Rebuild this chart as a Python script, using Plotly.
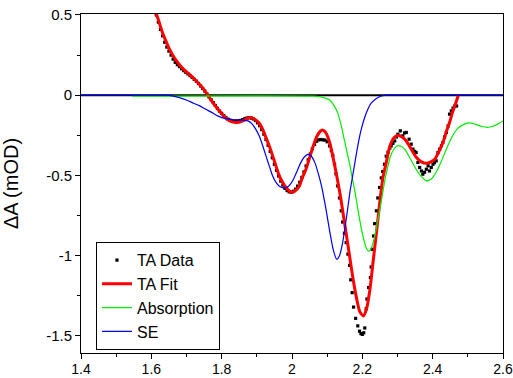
import plotly.graph_objects as go

# ---- TA data (black dots) ----
data_x = [1.614, 1.620, 1.626, 1.632, 1.638, 1.644, 1.650, 1.656, 1.662, 1.668,
          1.674, 1.680, 1.686, 1.692, 1.698, 1.704, 1.710, 1.716, 1.722, 1.728,
          1.734, 1.740, 1.746, 1.752, 1.758, 1.764, 1.770, 1.776, 1.782, 1.788,
          1.794, 1.800, 1.806, 1.812, 1.818, 1.824, 1.830, 1.836, 1.842, 1.848,
          1.854, 1.860, 1.866, 1.872, 1.878, 1.884, 1.890, 1.896, 1.902, 1.908,
          1.914, 1.920, 1.926, 1.932, 1.938, 1.944, 1.950, 1.956, 1.962, 1.968,
          1.974, 1.980, 1.986, 1.992, 1.998, 2.004, 2.010, 2.016, 2.022, 2.028,
          2.034, 2.040, 2.046, 2.052, 2.058, 2.064, 2.070, 2.076, 2.082, 2.088,
          2.094, 2.100, 2.107, 2.112, 2.116, 2.121, 2.125, 2.130, 2.135, 2.140,
          2.144, 2.149, 2.154, 2.159, 2.164, 2.167, 2.171, 2.175, 2.181, 2.187,
          2.192, 2.196, 2.200, 2.204, 2.207, 2.211, 2.213, 2.218, 2.223, 2.225,
          2.228, 2.232, 2.235, 2.240, 2.244, 2.249, 2.254, 2.258, 2.263, 2.268,
          2.273, 2.278, 2.282, 2.287, 2.292, 2.297, 2.301, 2.308, 2.315, 2.320,
          2.325, 2.333, 2.339, 2.344, 2.349, 2.353, 2.358, 2.363, 2.368, 2.372,
          2.377, 2.382, 2.387, 2.391, 2.396, 2.401, 2.405, 2.410, 2.415, 2.420,
          2.425, 2.429, 2.434, 2.439, 2.444, 2.448, 2.453, 2.458, 2.463, 2.468]
data_y = [0.500, 0.455, 0.410, 0.370, 0.330, 0.300, 0.275, 0.250, 0.225, 0.205,
          0.190, 0.178, 0.165, 0.153, 0.143, 0.133, 0.122, 0.111, 0.099, 0.087,
          0.073, 0.058, 0.042, 0.026, 0.008, -0.010, -0.028, -0.046, -0.064, -0.082,
          -0.099, -0.113, -0.127, -0.139, -0.149, -0.156, -0.160, -0.162, -0.162, -0.160,
          -0.157, -0.152, -0.146, -0.142, -0.140, -0.142, -0.148, -0.158, -0.172, -0.190,
          -0.214, -0.243, -0.276, -0.312, -0.350, -0.390, -0.430, -0.468, -0.503, -0.535,
          -0.560, -0.580, -0.594, -0.602, -0.604, -0.598, -0.585, -0.566, -0.542, -0.512,
          -0.478, -0.441, -0.403, -0.366, -0.333, -0.306, -0.287, -0.278, -0.276, -0.278,
          -0.280, -0.290, -0.316, -0.345, -0.375, -0.430, -0.490, -0.565, -0.640, -0.720,
          -0.790, -0.860, -0.918, -0.990, -1.060, -1.150, -1.230, -1.320, -1.390, -1.437,
          -1.470, -1.485, -1.490, -1.480, -1.450, -1.330, -1.270, -1.198, -1.136, -1.070,
          -0.960, -0.877, -0.800, -0.720, -0.640, -0.575, -0.515, -0.475, -0.430, -0.380,
          -0.355, -0.330, -0.316, -0.300, -0.285, -0.260, -0.243, -0.222, -0.253, -0.235,
          -0.232, -0.274, -0.305, -0.336, -0.350, -0.357, -0.419, -0.450, -0.472, -0.492,
          -0.480, -0.461, -0.440, -0.472, -0.450, -0.430, -0.420, -0.409, -0.357, -0.336,
          -0.315, -0.295, -0.260, -0.232, -0.191, -0.118, -0.098, -0.080, -0.067, -0.067]

# ---- TA fit (red) ----
fit_x = [1.612, 1.620, 1.630, 1.640, 1.652, 1.665, 1.680, 1.695, 1.710, 1.725,
         1.740, 1.755, 1.770, 1.785, 1.800, 1.815, 1.830, 1.845, 1.860, 1.872,
         1.882, 1.893, 1.907, 1.917, 1.926, 1.936, 1.945, 1.955, 1.964, 1.974,
         1.983, 1.993, 2.002, 2.012, 2.021, 2.030, 2.040, 2.050, 2.060, 2.070,
         2.080, 2.087, 2.095, 2.102, 2.109, 2.117, 2.127, 2.137, 2.147, 2.156,
         2.165, 2.174, 2.184, 2.193, 2.203, 2.212, 2.221, 2.230, 2.239, 2.249,
         2.258, 2.268, 2.278, 2.290, 2.301, 2.313, 2.325, 2.340, 2.354, 2.368,
         2.382, 2.395, 2.406, 2.418, 2.429, 2.440, 2.448, 2.456, 2.463, 2.473]
fit_y = [0.520, 0.470, 0.400, 0.345, 0.285, 0.235, 0.190, 0.155, 0.127, 0.095,
         0.060, 0.018, -0.030, -0.075, -0.115, -0.148, -0.166, -0.170, -0.160, -0.145,
         -0.139, -0.148, -0.175, -0.215, -0.264, -0.320, -0.378, -0.445, -0.503, -0.545,
         -0.575, -0.598, -0.606, -0.590, -0.565, -0.510, -0.460, -0.390, -0.320, -0.260,
         -0.225, -0.216, -0.230, -0.260, -0.310, -0.390, -0.500, -0.620, -0.760, -0.890,
         -1.020, -1.150, -1.270, -1.350, -1.375, -1.330, -1.220, -1.050, -0.877, -0.680,
         -0.520, -0.420, -0.320, -0.265, -0.249, -0.260, -0.285, -0.340, -0.388, -0.415,
         -0.424, -0.415, -0.399, -0.350, -0.295, -0.220, -0.170, -0.110, -0.067, 0.000]

# ---- Absorption (green) ----
abs_x = [1.545, 2.060, 2.080, 2.095, 2.107, 2.118, 2.130, 2.140, 2.149, 2.157,
         2.164, 2.171, 2.178, 2.185, 2.192, 2.199, 2.206, 2.212, 2.218, 2.224,
         2.230, 2.236, 2.243, 2.250, 2.257, 2.264, 2.272, 2.280, 2.290, 2.300,
         2.310, 2.322, 2.335, 2.350, 2.365, 2.382, 2.397, 2.410, 2.425, 2.440,
         2.455, 2.470, 2.490, 2.505, 2.520, 2.540, 2.555, 2.570, 2.585, 2.600]
abs_y = [-0.006, -0.006, -0.010, -0.018, -0.030, -0.060, -0.110, -0.190, -0.280, -0.360,
         -0.430, -0.510, -0.590, -0.680, -0.770, -0.850, -0.915, -0.955, -0.972, -0.960,
         -0.925, -0.870, -0.790, -0.710, -0.620, -0.530, -0.450, -0.380, -0.335, -0.315,
         -0.318, -0.340, -0.390, -0.450, -0.500, -0.534, -0.520, -0.480, -0.410, -0.330,
         -0.260, -0.210, -0.180, -0.172, -0.180, -0.195, -0.200, -0.195, -0.180, -0.160]

# ---- SE (blue) ----
se_x = [1.400, 1.550, 1.640, 1.660, 1.680, 1.700, 1.720, 1.736, 1.755, 1.774,
        1.790, 1.812, 1.835, 1.860, 1.875, 1.885, 1.895, 1.907, 1.916, 1.926,
        1.936, 1.945, 1.955, 1.964, 1.975, 1.985, 1.995, 2.005, 2.015, 2.025,
        2.035, 2.045, 2.055, 2.065, 2.075, 2.085, 2.095, 2.107, 2.117, 2.127,
        2.135, 2.144, 2.155, 2.165, 2.175, 2.185, 2.195, 2.205, 2.215, 2.225,
        2.240, 2.255, 2.270, 2.600]
se_y = [0.000, 0.000, 0.000, -0.004, -0.015, -0.030, -0.050, -0.065, -0.088, -0.110,
        -0.130, -0.146, -0.153, -0.155, -0.160, -0.175, -0.205, -0.254, -0.310, -0.378,
        -0.445, -0.503, -0.545, -0.567, -0.577, -0.575, -0.555, -0.520, -0.470, -0.420,
        -0.385, -0.368, -0.380, -0.420, -0.490, -0.575, -0.690, -0.845, -0.960, -1.022,
        -1.000, -0.918, -0.760, -0.600, -0.470, -0.340, -0.230, -0.150, -0.090, -0.050,
        -0.020, -0.005, 0.000, 0.000]

x_ticks = [1.4, 1.6, 1.8, 2.0, 2.2, 2.4, 2.6]
x_ticktext = ["1.4", "1.6", "1.8", "2", "2.2", "2.4", "2.6"]
y_ticks = [-1.5, -1.0, -0.5, 0.0, 0.5]
y_ticktext = ["-1.5", "-1", "-0.5", "0", "0.5"]

FONT = "Arial, Liberation Sans, sans-serif"

fig = go.Figure()
fig.add_trace(go.Scatter(x=data_x, y=data_y, mode="markers", name="TA Data",
                         marker=dict(color="black", size=3.2, symbol="square",
                                     line=dict(width=0))))
fig.add_trace(go.Scatter(x=fit_x, y=fit_y, mode="lines", name="TA Fit",
                         line=dict(color="#ff0000", width=3, shape="spline", smoothing=0.6)))
fig.add_trace(go.Scatter(x=abs_x, y=abs_y, mode="lines", name="Absorption",
                         line=dict(color="#00ee00", width=1.2, shape="spline", smoothing=0.6)))
fig.add_trace(go.Scatter(x=se_x, y=se_y, mode="lines", name="SE",
                         line=dict(color="#0000ee", width=1.2, shape="spline", smoothing=0.6)))

# zero reference line drawn beneath the curves
fig.add_shape(type="line", xref="paper", x0=0, x1=1, yref="y", y0=0, y1=0,
              line=dict(color="black", width=2), layer="below")

fig.update_layout(
    width=513, height=378,
    margin=dict(l=81, r=10, t=14, b=25, autoexpand=False),
    paper_bgcolor="white", plot_bgcolor="white",
    font=dict(family=FONT, color="black", size=15),
    showlegend=True,
    legend=dict(x=0.0355, y=0.327, xanchor="left", yanchor="top",
                bgcolor="white", bordercolor="black", borderwidth=1,
                font=dict(size=16, family=FONT), tracegroupgap=0,
                itemwidth=30),
)
fig.update_xaxes(range=[1.4, 2.6], tickvals=x_ticks, ticktext=x_ticktext,
                 automargin=False, ticklabeloverflow="allow", ticklabelstandoff=-2,
                 showline=True, linecolor="black", linewidth=1, mirror=True,
                 ticks="outside", ticklen=5, tickcolor="black", showgrid=False,
                 zeroline=False, tickfont=dict(size=14),
                 minor=dict(ticks="outside", ticklen=3, tick0=1.4, dtick=0.1,
                            tickcolor="black", showgrid=False))
fig.update_yaxes(range=[-1.606, 0.506], tickvals=y_ticks, ticktext=y_ticktext,
                 automargin=False, ticklabeloverflow="allow",
                 showline=True, linecolor="black", linewidth=1, mirror=True,
                 ticks="outside", ticklen=5, tickcolor="black", showgrid=False,
                 zeroline=False,
                 tickfont=dict(size=15),
                 title=dict(text="ΔA (mOD)", font=dict(size=20), standoff=22),
                 minor=dict(ticks="outside", ticklen=3, tick0=0, dtick=0.25,
                            tickcolor="black", showgrid=False))

fig.write_html("out.html",
               config={"displayModeBar": False},
               post_script="document.body.style.margin='0px';document.body.style.padding='0px';")
